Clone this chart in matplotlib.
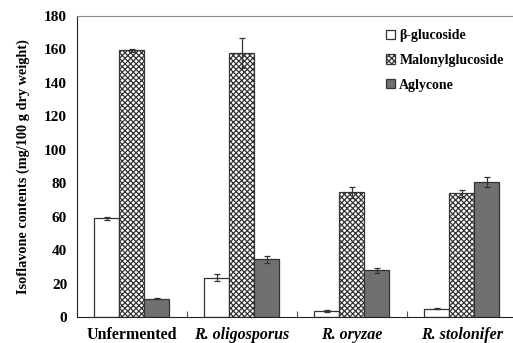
import numpy as np
import matplotlib.pyplot as plt
import matplotlib as mpl

mpl.rcParams['font.family'] = 'Liberation Serif'
mpl.rcParams['font.weight'] = 'bold'
mpl.rcParams['hatch.linewidth'] = 0.9

# Data
groups = ['Unfermented', 'R. oligosporus', 'R. oryzae', 'R. stolonifer']
series = ['β-glucoside', 'Malonylglucoside', 'Aglycone']
glucoside = [59, 23.5, 3.5, 5]
glucoside_err = [0.7, 2, 0.4, 0.4]
malonyl = [159.5, 158, 74.5, 74]
malonyl_err = [1, 9, 3.5, 2]
aglycone = [11, 34.5, 28, 80.5]
aglycone_err = [0.5, 2, 1.5, 3]

fig = plt.figure(figsize=(5.13, 3.43), dpi=100)
ax = fig.add_axes([0.150, 0.0758, 0.8577, 0.8776])

x = np.arange(len(groups)) + 0.5
w = 0.227
edge = '#333333'
ekw = dict(ecolor='#333333', elinewidth=0.9, capsize=2, capthick=0.9)

ax.bar(x - w, glucoside, w, yerr=glucoside_err, color='white', edgecolor=edge,
       linewidth=0.9, label=series[0], error_kw=ekw)
ax.bar(x, malonyl, w, yerr=malonyl_err, color='white', edgecolor=edge, hatch='xxxxxx',
       linewidth=0.9, label=series[1], error_kw=ekw)
ax.bar(x + w, aglycone, w, yerr=aglycone_err, color='#707070', edgecolor=edge,
       linewidth=0.9, label=series[2], error_kw=ekw)

ax.set_xlim(0, 4)
ax.set_ylim(0, 180)
ax.set_yticks(range(0, 181, 20))
ax.set_xticks([1, 2, 3])
ax.set_xticklabels([])
ax.tick_params(axis='x', which='major', length=4, direction='in', color='#555555')
ax.tick_params(axis='y', length=0, labelsize=11, pad=7)

# group names, italic for the Rhizopus species
for i, name in enumerate(groups):
    style = 'normal' if i == 0 else 'italic'
    ax.annotate(name, (x[i], 0), xytext=(0, -7), textcoords='offset points',
                ha='center', va='top', fontsize=11.5, fontweight='bold', style=style)

ax.spines['right'].set_visible(False)
ax.spines['top'].set_color('#888888')
ax.spines['left'].set_color('#222222')
ax.spines['bottom'].set_color('#222222')

ax.set_ylabel('Isoflavone contents (mg/100 g dry weight)', fontsize=10.3, fontweight='bold',
              labelpad=10)

leg = ax.legend(loc='upper left', bbox_to_anchor=(0.69, 0.975), frameon=False,
                prop={'size': 10, 'weight': 'bold'}, handlelength=0.65, handleheight=0.65,
                handletextpad=0.3, labelspacing=0.85, borderaxespad=0)

fig.savefig('out.png', dpi=100)
